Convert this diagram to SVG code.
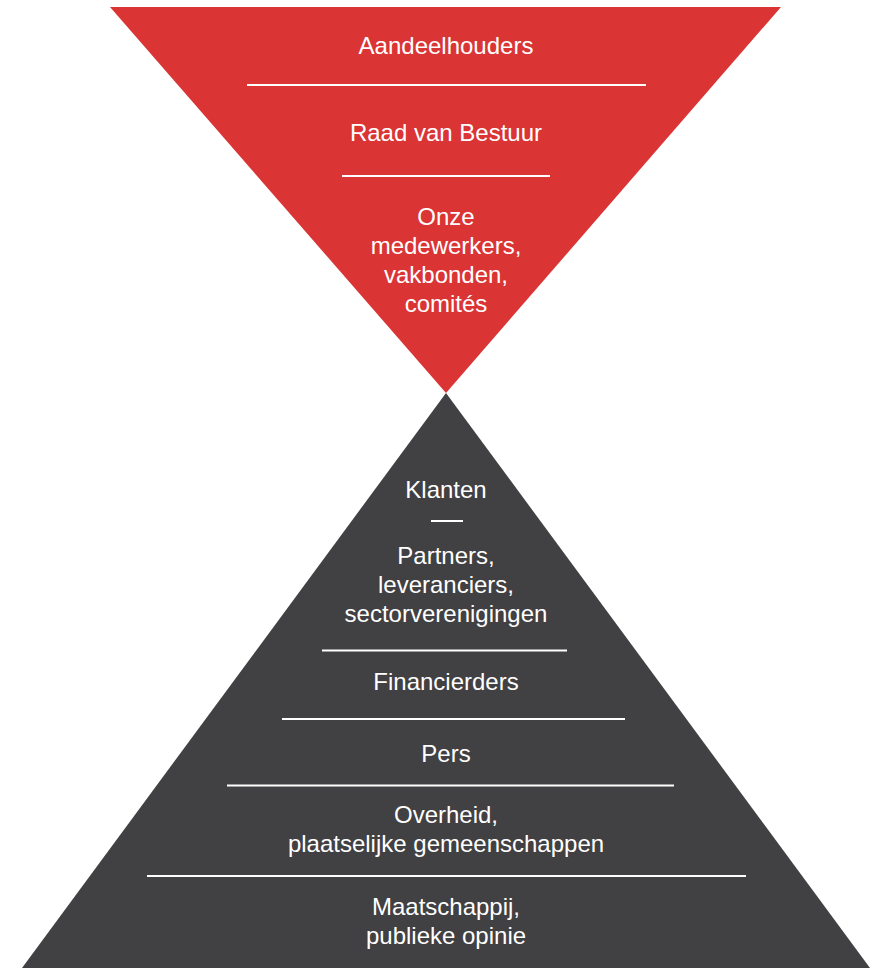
<svg xmlns="http://www.w3.org/2000/svg" width="875" height="968" viewBox="0 0 875 968">
<style>
.t{font-family:"Liberation Sans",Arial,Helvetica,sans-serif;font-size:24px;fill:#ffffff;text-anchor:middle}
.sep{stroke:#ffffff;stroke-width:2;fill:none}
</style>
<rect width="875" height="968" fill="#ffffff"/>
<g id="top-triangle">
<polygon points="110,7 781,7 446,393" fill="#DA3434"/>
</g>
<g id="bottom-triangle">
<polygon points="446,393 870,968 22,968" fill="#414042"/>
</g>
<g id="separators">
<line class="sep" x1="247" y1="85" x2="646" y2="85"/>
<line class="sep" x1="342" y1="176" x2="550" y2="176"/>
<line class="sep" x1="431" y1="521" x2="463" y2="521"/>
<line class="sep" x1="322" y1="650.5" x2="567" y2="650.5"/>
<line class="sep" x1="282" y1="719" x2="625" y2="719"/>
<line class="sep" x1="227" y1="785.5" x2="674" y2="785.5"/>
<line class="sep" x1="147" y1="876" x2="746" y2="876"/>
</g>
<g id="aandeelhouders"><text class="t" x="446" y="54">Aandeelhouders</text></g>
<g id="raad-van-bestuur"><text class="t" x="446" y="141">Raad van Bestuur</text></g>
<g id="medewerkers">
<text class="t" x="446" y="224.5">Onze</text>
<text class="t" x="446" y="253.5">medewerkers,</text>
<text class="t" x="446" y="282.5">vakbonden,</text>
<text class="t" x="446" y="311.5">comités</text>
</g>
<g id="klanten"><text class="t" x="446" y="498">Klanten</text></g>
<g id="partners">
<text class="t" x="446" y="564">Partners,</text>
<text class="t" x="446" y="593">leveranciers,</text>
<text class="t" x="446" y="622">sectorverenigingen</text>
</g>
<g id="financierders"><text class="t" x="446" y="690">Financierders</text></g>
<g id="pers"><text class="t" x="446" y="762">Pers</text></g>
<g id="overheid">
<text class="t" x="446" y="823">Overheid,</text>
<text class="t" x="446" y="852">plaatselijke gemeenschappen</text>
</g>
<g id="maatschappij">
<text class="t" x="446" y="915">Maatschappij,</text>
<text class="t" x="446" y="944">publieke opinie</text>
</g>
</svg>
